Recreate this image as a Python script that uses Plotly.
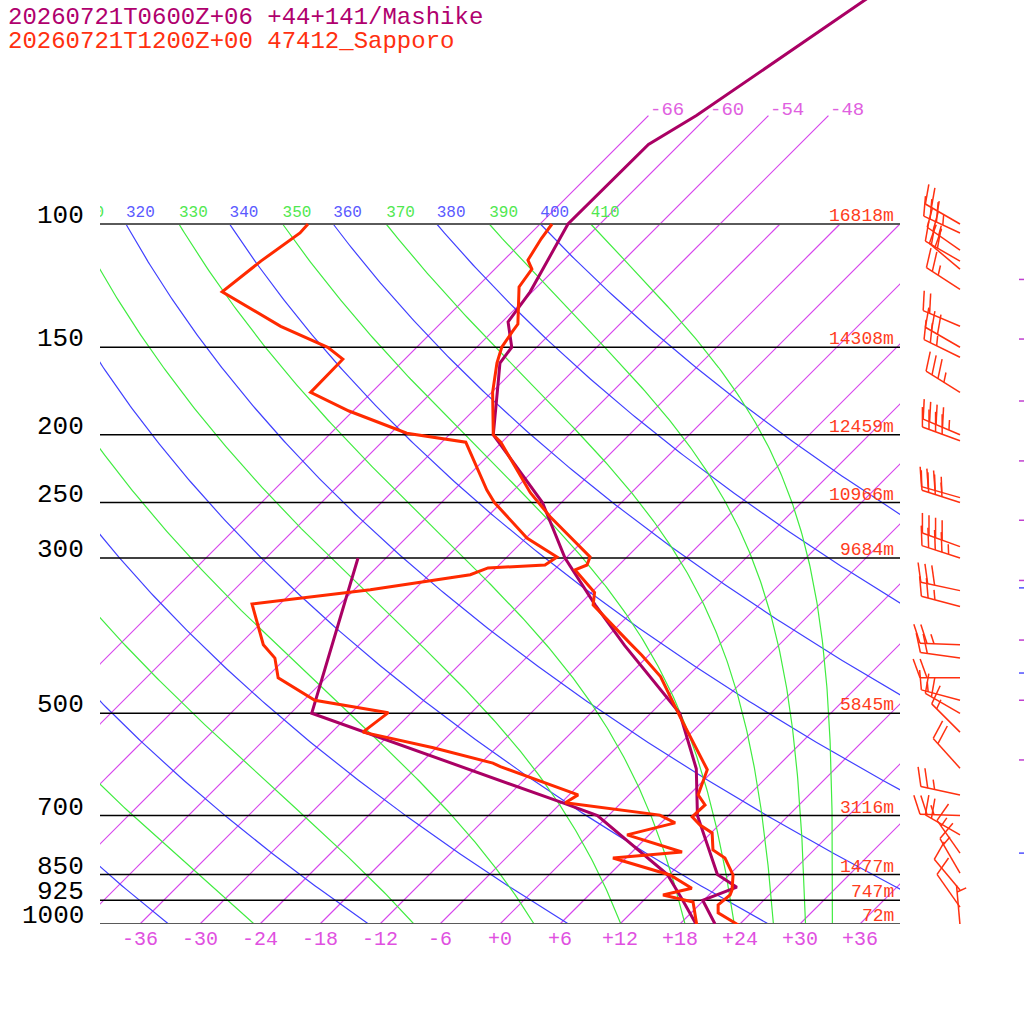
import numpy as np
import plotly.graph_objects as go

# Sapporo (47412) observed sounding: temperature and dewpoint, hPa / degC
sap_t_p = [1004, 964, 939, 909, 894, 851, 805, 784, 741, 722, 703, 676, 654, 602, 506, 443, 413, 397,
           350, 336, 312, 307, 299, 262, 242, 205, 200, 174, 158, 150, 142.5, 139, 123, 116, 112.6, 105, 100]
sap_t = [24.0, 20.7, 19.9, 20.1, 19.8, 18.4, 15.9, 13.9, 12.1, 10.1, 8.5, 8.6, 6.9, 5.3, -2.7, -8.7, -12.7, -15.1,
         -22.6, -23.7, -27.9, -27.2, -27.7, -35.7, -40.1, -48.1, -49.6, -53.9, -56.4, -57.5, -58.0, -58.2, -61.8,
         -62.3, -63.6, -64.4, -64.8]
sap_td_p = [1004, 930, 909, 889, 851, 805, 789, 746, 717, 699, 671, 654, 596, 589, 560, 532, 499, 479, 445, 417,
            399, 349, 333, 317, 310, 307, 299, 281, 250, 240, 205, 199, 185, 174, 156, 150, 140, 125, 113, 105,
            103, 100]
sap_td = [19.8, 17.1, 13.4, 15.6, 12.1, 4.7, 11.0, 3.8, 7.4, 5.1, -5.6, -5.1, -15.7, -16.8, -24.3, -32.9, -32.3,
          -40.9, -46.8, -49.1, -51.6, -56.8, -46.4, -37.9, -36.8, -31.4, -31.0, -35.9, -42.7, -44.7, -51.6, -58.4,
          -66.4, -72.1, -72.2, -74.9, -81.7, -91.0, -90.2, -89.4, -89.1, -89.2]

# Mashike (+44+141) forecast profile
mas_t_p = [1000, 925, 886, 850, 700, 600, 500, 400, 350, 300, 250, 200, 168, 158, 150, 138, 125, 100, 77, 70, 30]
mas_t = [21.5, 17.9, 20.0, 16.8, 8.9, 4.1, -3.1, -15.4, -22.4, -30.1, -37.9, -49.6, -54.4, -56.1, -56.5, -59.4,
         -60.2, -63.2, -63.1, -61.2, -49.4]
mas_td_p = [1000, 925, 850, 700, 671, 500, 300]
mas_td = [19.6, 15.9, 11.8, -1.1, -5.9, -39.9, -50.8]

# Sapporo winds: pressure, direction (deg), speed (kt)
wind_p = [100, 103, 109, 113, 116, 124, 140, 150, 155, 174, 200, 204, 246, 250, 289, 300, 334, 352, 399, 417,
          445, 479, 500, 532, 599, 654, 700, 746, 792, 846, 894, 946, 1003]
wind_dir = [300, 295, 305, 300, 310, 303, 293, 300, 296, 302, 293, 290, 286, 288, 290, 288, 282, 285, 272, 278,
            270, 285, 300, 315, 318, 282, 272, 300, 325, 330, 320, 325, 355]
wind_kt = [25, 35, 25, 30, 20, 25, 20, 30, 25, 35, 45, 40, 35, 40, 40, 45, 30, 25, 25, 20,
           20, 15, 20, 15, 20, 25, 25, 20, 15, 15, 10, 10, 5]
# Mashike wind marks just visible at the right edge
mas_wind_p = [120, 146, 179, 218, 265, 323, 393, 479, 583]
mas_wind_p2 = [331, 438, 792]

# grid
isobar_p = [100, 150, 200, 250, 300, 500, 700, 850, 925, 1000]
height_lbl = ['16818m', '14308m', '12459m', '10966m', '9684m', '5845m', '3116m', '1477m', '747m', '72m']
iso_t = list(range(-66, 37, 6))
iso_top_t = [-66, -60, -54, -48]
dry_theta = list(range(240, 401, 20))
moist_theta = list(range(250, 411, 20))
tick_t = list(range(-36, 37, 6))

SKEW = 70.0      # degC shift per pressure decade
PX_DEC = 700.0   # pixels per pressure decade
XMIN, XMAX = -40, 40
P_TOP = 10 ** (3 - 924 / PX_DEC)

RED = 'rgb(255,42,0)'
PURPLE = 'rgb(170,0,100)'
ISO_C = 'rgb(214,70,236)'
BLUE = 'rgb(64,64,255)'
GREEN = 'rgb(64,236,64)'
MONO = 'Liberation Mono'


def skew_x(t, p):
    return np.asarray(t, float) + SKEW * np.log10(1000.0 / np.asarray(p, float))


def up(p, px):
    # pressure that sits px pixels above p on the log axis
    return p * 10 ** (-px / PX_DEC)


def theta_e_sat(tk, p):
    tc = tk - 273.15
    es = np.minimum(6.112 * np.exp(17.67 * tc / (tc + 243.5)), 0.5 * p)
    r = 622.0 * es / (p - es)
    return tk * (1000.0 / p) ** (0.2854 * (1 - 0.00028 * r)) * \
        np.exp((3.376 / tk - 0.00254) * r * (1 + 0.00081 * r))


def moist_t(the, p):
    lo = np.full_like(p, 120.0)
    hi = np.full_like(p, 340.0)
    for _ in range(60):
        mid = 0.5 * (lo + hi)
        big = theta_e_sat(mid, p) > the
        hi = np.where(big, mid, hi)
        lo = np.where(big, lo, mid)
    return 0.5 * (lo + hi) - 273.15


def path(x, y, color, width, xaxis='x'):
    return go.Scatter(x=list(x), y=list(y), mode='lines', line=dict(color=color, width=width),
                      xaxis=xaxis, yaxis='y', hoverinfo='skip', showlegend=False)


fig = go.Figure()
p_grid = np.logspace(3, 2, 240)

# isotherms
for t in iso_t:
    pp = [1000.0, 70.0] if t in iso_top_t else [1000.0, 100.0]
    fig.add_trace(path(skew_x([t, t], pp), pp, ISO_C, 1.2))

# dry adiabats
for th in dry_theta:
    tt = th * (p_grid / 1000.0) ** 0.2857 - 273.15
    fig.add_trace(path(skew_x(tt, p_grid), p_grid, BLUE, 1.2))

# saturated (pseudo) adiabats
for th in moist_theta:
    tt = moist_t(th, p_grid)
    fig.add_trace(path(skew_x(tt, p_grid), p_grid, GREEN, 1.2))

# theta labels at 100 hPa
lab_th = sorted(dry_theta + moist_theta)
lab_x, lab_c = [], []
for th in lab_th:
    if th in dry_theta:
        t100 = th * 0.1 ** 0.2857 - 273.15
        lab_c.append('#5a5aff')
    else:
        t100 = moist_t(th, np.array([100.0]))[0]
        lab_c.append('#50e850')
    lab_x.append(float(skew_x(t100, 100)))
fig.add_trace(go.Scatter(x=lab_x, y=[up(100, 3)] * len(lab_th), mode='text', text=[str(v) for v in lab_th],
                         textposition='top right', textfont=dict(family=MONO, size=16, color=lab_c),
                         hoverinfo='skip', showlegend=False))

# isobars
for p in isobar_p:
    edge = p in (100, 1000)
    fig.add_trace(path([XMIN, XMAX], [p, p], '#5a5a5a' if edge else 'black', 2 if edge else 1.5))

# soundings
fig.add_trace(path(skew_x(mas_td, mas_td_p), mas_td_p, PURPLE, 3))
fig.add_trace(path(skew_x(mas_t, mas_t_p), mas_t_p, PURPLE, 3))
fig.add_trace(path(skew_x(sap_td, sap_td_p), sap_td_p, RED, 3))
fig.add_trace(path(skew_x(sap_t, sap_t_p), sap_t_p, RED, 3))

# wind barbs (right panel, x in pixels, offsets converted through the pressure scale)
XB = 960
bx, by = [], []
for p, wd, ws in zip(wind_p, wind_dir, wind_kt):
    d = np.radians(wd)
    ux, uy = np.sin(d), np.cos(d)
    f = np.radians(wd + 70)
    fx, fy = np.sin(f), np.cos(f)
    L = 40.0
    bx += [XB, XB + ux * L, None]
    by += [p, up(p, uy * L), None]
    s = int(5 * round(ws / 5.0))
    n50, s = divmod(s, 50)
    n10, s = divmod(s, 10)
    n5 = s // 5
    pos = L
    for _ in range(n50):
        a = (ux * pos, uy * pos)
        b = (ux * (pos - 8), uy * (pos - 8))
        bx += [XB + a[0], XB + a[0] + fx * 20, XB + b[0], None]
        by += [up(p, a[1]), up(p, a[1] + fy * 20), up(p, b[1]), None]
        pos -= 10
    for _ in range(n10):
        a = (ux * pos, uy * pos)
        bx += [XB + a[0], XB + a[0] + fx * 20, None]
        by += [up(p, a[1]), up(p, a[1] + fy * 20), None]
        pos -= 7
    for _ in range(n5):
        if pos == L:
            pos -= 7
        a = (ux * pos, uy * pos)
        bx += [XB + a[0], XB + a[0] + fx * 10, None]
        by += [up(p, a[1]), up(p, a[1] + fy * 10), None]
fig.add_trace(path(bx, by, 'rgb(255,48,16)', 1.5, xaxis='x2'))

mx, my = [], []
for p in mas_wind_p:
    mx += [1019, 1024, None]
    my += [p, p, None]
fig.add_trace(path(mx, my, 'rgb(192,64,208)', 1.5, xaxis='x2'))
mx, my = [], []
for p in mas_wind_p2:
    mx += [1019, 1024, None]
    my += [p, p, None]
fig.add_trace(path(mx, my, 'rgb(80,80,255)', 1.5, xaxis='x2'))

ann = []
# pressure labels
for p in isobar_p:
    ann.append(dict(text=str(p), xref='paper', x=86 / 1024, xanchor='right', yref='y', y=np.log10(p),
                    yanchor='middle', yshift=8, showarrow=False, font=dict(family=MONO, size=26, color='black')))
# heights
for p, h in zip(isobar_p, height_lbl):
    ann.append(dict(text=h, xref='x', x=39.6, xanchor='right', yref='y', y=np.log10(p), yanchor='middle',
                    yshift=8, showarrow=False, font=dict(family=MONO, size=18, color='#ff3c20')))
# isotherm labels at the top
for t in iso_top_t:
    ann.append(dict(text=str(t), xref='x', x=float(skew_x(t, 70)), xanchor='left', yref='y', y=np.log10(70),
                    yanchor='middle', yshift=6, showarrow=False, font=dict(family=MONO, size=19, color='#e060e0')))
# titles
ann.append(dict(text='20260721T0600Z+06 +44+141/Mashike', xref='paper', x=6 / 1024, xanchor='left',
                yref='paper', y=1 - 17 / 924, yanchor='middle', showarrow=False,
                font=dict(family=MONO, size=24, color='#b0006e')))
ann.append(dict(text='20260721T1200Z+00 47412_Sapporo', xref='paper', x=6 / 1024, xanchor='left',
                yref='paper', y=1 - 41 / 924, yanchor='middle', showarrow=False,
                font=dict(family=MONO, size=24, color='#ff3010')))

fig.update_layout(
    width=1024, height=1024,
    margin=dict(l=0, r=0, t=0, b=100),
    paper_bgcolor='white', plot_bgcolor='white',
    showlegend=False,
    annotations=ann,
    xaxis=dict(domain=[100 / 1024, 900 / 1024], range=[XMIN, XMAX], showgrid=False, zeroline=False,
               showline=False, ticks='', tickvals=tick_t,
               ticktext=[('+' if t >= 0 else '') + str(t) for t in tick_t],
               tickfont=dict(family=MONO, size=20, color='#e050e0')),
    xaxis2=dict(domain=[900 / 1024, 1], range=[900, 1024], visible=False, anchor='y'),
    yaxis=dict(type='log', range=[3, np.log10(P_TOP)], showgrid=False, zeroline=False,
               showticklabels=False, ticks='', showline=False),
)

# page body has a default 8px margin; drop it so the figure sits at the window corner
fig.write_html("out.html", config={'displayModeBar': False},
               post_script="document.body.style.margin='0px';")
